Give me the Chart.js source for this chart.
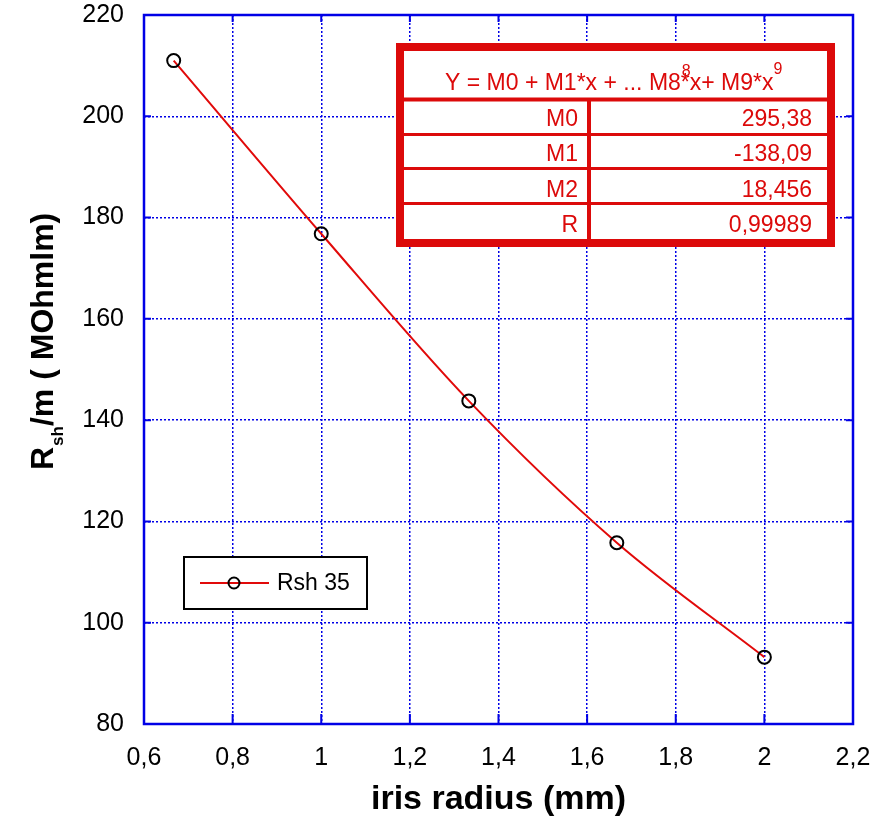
<!DOCTYPE html>
<html>
<head>
<meta charset="utf-8">
<script src="https://cdn.jsdelivr.net/npm/chart.js@4/dist/chart.umd.min.js"></script>
<style>
  body { margin: 0; background: #fff; }
  canvas { display: block; }
</style>
</head>
<body>
<canvas id="c" width="884" height="822"></canvas>
<script>
// data
var irisRadius = [0.667, 1.0, 1.333, 1.667, 2.0];
var rsh35 = [211.0, 176.8, 143.8, 115.8, 93.2];
var seriesName = 'Rsh 35';

var xTickLabels = ['0,6', '0,8', '1', '1,2', '1,4', '1,6', '1,8', '2', '2,2'];
var yTickLabels = ['80', '100', '120', '140', '160', '180', '200', '220'];

// fit table
var fitNames = ['M0', 'M1', 'M2', 'R'];
var fitValues = ['295,38', '-138,09', '18,456', '0,99989'];

var BLUE = '#0000e6';
var RED = '#dc0a0a';
var FONT = '"Liberation Sans", Arial, sans-serif';

var points = [];
for (var i = 0; i < irisRadius.length; i++) {
    points.push({ x: irisRadius[i], y: rsh35[i] });
}

// frame, inner ticks, axis titles, fit table, legend
var decor = {
    id: 'decor',
    afterDraw: function (chart) {
        var ctx = chart.ctx;
        var a = chart.chartArea;
        var xs = chart.scales.x, ys = chart.scales.y;
        ctx.save();

        // inward ticks
        ctx.strokeStyle = BLUE;
        ctx.lineWidth = 2;
        ctx.beginPath();
        ys.ticks.forEach(function (t) {
            var py = ys.getPixelForValue(t.value);
            ctx.moveTo(a.left, py); ctx.lineTo(a.left + 7, py);
            ctx.moveTo(a.right, py); ctx.lineTo(a.right - 7, py);
        });
        xs.ticks.forEach(function (t) {
            var px = xs.getPixelForValue(t.value);
            ctx.moveTo(px, a.bottom); ctx.lineTo(px, a.bottom - 10);
            ctx.moveTo(px, a.top); ctx.lineTo(px, a.top + 7);
        });
        ctx.stroke();

        // frame
        ctx.lineWidth = 2.5;
        ctx.strokeRect(a.left, a.top, a.right - a.left, a.bottom - a.top);

        // x title
        ctx.fillStyle = '#000';
        ctx.font = 'bold 34px ' + FONT;
        ctx.textAlign = 'center';
        ctx.textBaseline = 'alphabetic';
        ctx.fillText('iris radius (mm)', (a.left + a.right) / 2, 809);

        // y title (rotated, with subscript)
        ctx.save();
        ctx.translate(53, 470);
        ctx.rotate(-Math.PI / 2);
        ctx.textAlign = 'left';
        ctx.font = 'bold 32px ' + FONT;
        ctx.fillText('R', 0, 0);
        var w = ctx.measureText('R').width;
        ctx.font = 'bold 17px ' + FONT;
        ctx.fillText('sh', w + 1, 10);
        var w2 = ctx.measureText('sh').width;
        ctx.font = 'bold 32px ' + FONT;
        ctx.fillText('/m ( MOhmlm)', w + w2 + 1, 0);
        ctx.restore();

        // fit table
        ctx.fillStyle = '#fff';
        ctx.fillRect(400, 47, 431, 196);
        ctx.strokeStyle = RED;
        ctx.lineWidth = 8;
        ctx.strokeRect(400, 47, 431, 196);
        ctx.lineWidth = 4;
        ctx.beginPath();
        ctx.moveTo(404, 99.5); ctx.lineTo(827, 99.5);
        ctx.moveTo(589, 101); ctx.lineTo(589, 239);
        ctx.stroke();
        ctx.lineWidth = 3;
        ctx.beginPath();
        [134.5, 168.5, 203.5].forEach(function (yy) {
            ctx.moveTo(404, yy); ctx.lineTo(827, yy);
        });
        ctx.stroke();

        ctx.fillStyle = RED;
        ctx.textAlign = 'left';
        ctx.font = '23px ' + FONT;
        var hx = 445, hy = 90;
        var p1 = 'Y = M0 + M1*x + ... M8*';
        ctx.fillText(p1, hx, hy);
        hx += ctx.measureText(p1).width;
        ctx.font = '16px ' + FONT;
        ctx.fillText('8', hx - 8, hy - 14);
        ctx.font = '23px ' + FONT;
        var p2 = 'x+ M9*x';
        ctx.fillText(p2, hx, hy);
        hx += ctx.measureText(p2).width;
        ctx.font = '16px ' + FONT;
        ctx.fillText('9', hx, hy - 16);

        ctx.font = '23px ' + FONT;
        ctx.textAlign = 'right';
        var rowBase = [126, 161, 197, 232];
        for (var r = 0; r < fitNames.length; r++) {
            ctx.fillText(fitNames[r], 578, rowBase[r]);
            ctx.fillText(fitValues[r], 812, rowBase[r]);
        }

        // legend
        var ds = chart.data.datasets[0];
        ctx.fillStyle = '#fff';
        ctx.fillRect(184, 557, 183, 52);
        ctx.strokeStyle = '#000';
        ctx.lineWidth = 2;
        ctx.strokeRect(184, 557, 183, 52);
        ctx.strokeStyle = ds.borderColor;
        ctx.lineWidth = 2;
        ctx.beginPath();
        ctx.moveTo(200, 583); ctx.lineTo(269, 583);
        ctx.stroke();
        ctx.strokeStyle = '#000';
        ctx.lineWidth = 2;
        ctx.beginPath();
        ctx.arc(234, 583, 5.5, 0, Math.PI * 2);
        ctx.stroke();
        ctx.fillStyle = '#000';
        ctx.textAlign = 'left';
        ctx.textBaseline = 'middle';
        ctx.font = '23px ' + FONT;
        ctx.fillText(ds.label, 277, 584);

        ctx.restore();
    }
};

var chart = new Chart(document.getElementById('c'), {
    type: 'scatter',
    data: {
        datasets: [{
            label: seriesName,
            data: points,
            showLine: true,
            borderColor: 'rgb(225, 10, 10)',
            borderWidth: 2,
            cubicInterpolationMode: 'monotone',
            pointRadius: 6.5,
            pointBorderWidth: 2,
            pointBorderColor: '#000',
            pointBackgroundColor: 'rgba(0,0,0,0)'
        }]
    },
    options: {
        responsive: false,
        animation: false,
        layout: { padding: { left: 0, top: 15, right: 31, bottom: 0 } },
        plugins: {
            legend: { display: false },
            title: { display: false },
            tooltip: { enabled: false }
        },
        scales: {
            x: {
                type: 'linear',
                min: 0.6,
                max: 2.2,
                afterFit: function (s) {
                    s.height = 98;
                    s.paddingLeft = 0; s.paddingRight = 0;
                },
                ticks: {
                    stepSize: 0.2,
                    padding: 19,
                    color: '#000',
                    font: { family: FONT, size: 25 },
                    maxRotation: 0,
                    autoSkip: false,
                    callback: function (v, i) { return xTickLabels[i]; }
                },
                grid: { color: BLUE, lineWidth: 1.5, drawTicks: false },
                border: { display: false, dash: [2, 2] }
            },
            y: {
                min: 80,
                max: 220,
                afterFit: function (s) {
                    s.width = 144;
                    s.paddingTop = 0; s.paddingBottom = 0;
                },
                ticks: {
                    stepSize: 20,
                    padding: 20,
                    color: '#000',
                    font: { family: FONT, size: 25 },
                    callback: function (v, i) { return yTickLabels[i]; }
                },
                grid: { color: BLUE, lineWidth: 1.5, drawTicks: false },
                border: { display: false, dash: [2, 2] }
            }
        }
    },
    plugins: [decor]
});
</script>
</body>
</html>
